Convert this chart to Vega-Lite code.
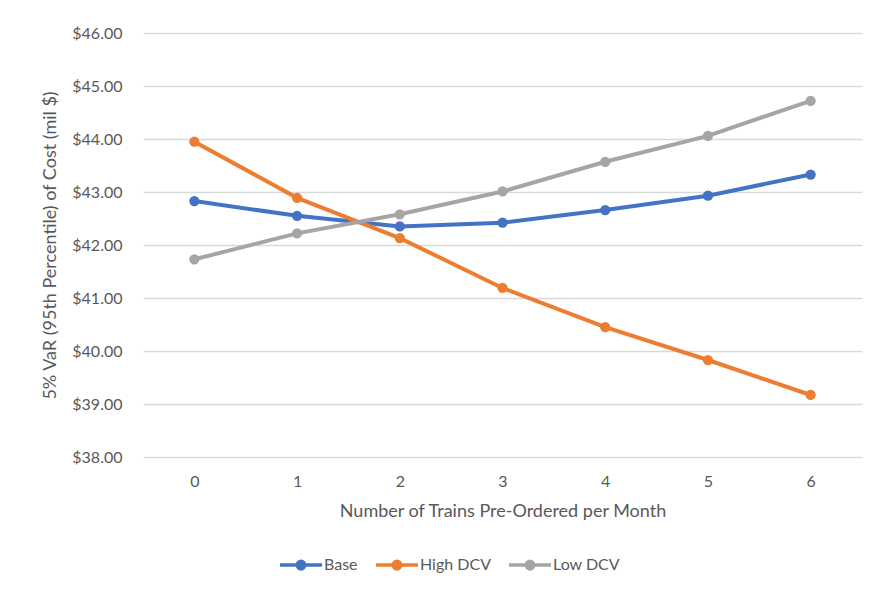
{
  "$schema": "https://vega.github.io/schema/vega-lite/v6.json",
  "autosize": "none",
  "width": 719,
  "height": 424,
  "padding": {"left": 143, "top": 33, "right": 13, "bottom": 135},
  "background": "white",
  "config": {
    "font": "Lato",
    "view": {"stroke": null},
    "axis": {"labelFont": "Lato", "titleFont": "Lato", "labelColor": "#595959", "titleColor": "#595959", "labelFontSize": 16, "titleFontSize": 18, "titleFontWeight": "normal", "domain": false, "ticks": false, "tickSize": 0}
  },
  "data": {
    "values": [
      {"n": 0, "series": "Base", "v": 42.83},
      {"n": 1, "series": "Base", "v": 42.55},
      {"n": 2, "series": "Base", "v": 42.35},
      {"n": 3, "series": "Base", "v": 42.42},
      {"n": 4, "series": "Base", "v": 42.66},
      {"n": 5, "series": "Base", "v": 42.93},
      {"n": 6, "series": "Base", "v": 43.33},
      {"n": 0, "series": "High DCV", "v": 43.95},
      {"n": 1, "series": "High DCV", "v": 42.89},
      {"n": 2, "series": "High DCV", "v": 42.13},
      {"n": 3, "series": "High DCV", "v": 41.19},
      {"n": 4, "series": "High DCV", "v": 40.45},
      {"n": 5, "series": "High DCV", "v": 39.83},
      {"n": 6, "series": "High DCV", "v": 39.17},
      {"n": 0, "series": "Low DCV", "v": 41.73},
      {"n": 1, "series": "Low DCV", "v": 42.22},
      {"n": 2, "series": "Low DCV", "v": 42.58},
      {"n": 3, "series": "Low DCV", "v": 43.01},
      {"n": 4, "series": "Low DCV", "v": 43.57},
      {"n": 5, "series": "Low DCV", "v": 44.06},
      {"n": 6, "series": "Low DCV", "v": 44.72}
    ]
  },
  "mark": {"type": "line", "strokeWidth": 4, "point": {"filled": true, "size": 105, "opacity": 1}},
  "encoding": {
    "x": {
      "field": "n", "type": "ordinal",
      "scale": {"type": "point", "padding": 0.5},
      "axis": {"title": "Number of Trains Pre-Ordered per Month", "labelAngle": 0, "grid": false, "labelPadding": 16, "titlePadding": 13}
    },
    "y": {
      "field": "v", "type": "quantitative",
      "scale": {"domain": [38, 46], "nice": false, "zero": false},
      "axis": {"title": "5% VaR (95th Percentile) of Cost (mil $)", "values": [38, 39, 40, 41, 42, 43, 44, 45, 46], "format": "$.2f", "grid": true, "gridColor": "#d9d9d9", "gridWidth": 1.3, "labelPadding": 21, "titlePadding": 12}
    },
    "color": {
      "field": "series", "type": "nominal",
      "scale": {"domain": ["Base", "High DCV", "Low DCV"], "range": ["#4472C4", "#ED7D31", "#A5A5A5"]},
      "legend": {
        "title": null,
        "orient": "none",
        "legendX": 135,
        "legendY": 509,
        "direction": "horizontal",
        "symbolType": "M-1,0H1M0.18,0A0.18,0.18,0,1,1,-0.18,0A0.18,0.18,0,1,1,0.18,0Z",
        "symbolSize": 1764,
        "symbolStrokeWidth": 3.5,
        "labelFont": "Lato",
        "labelFontSize": 16,
        "labelColor": "#595959",
        "labelOffset": 0,
        "columnPadding": 11,
        "encode": {"symbols": {"update": {"fill": {"scale": "color", "field": "value"}, "opacity": {"value": 1}}}}
      }
    }
  }
}
